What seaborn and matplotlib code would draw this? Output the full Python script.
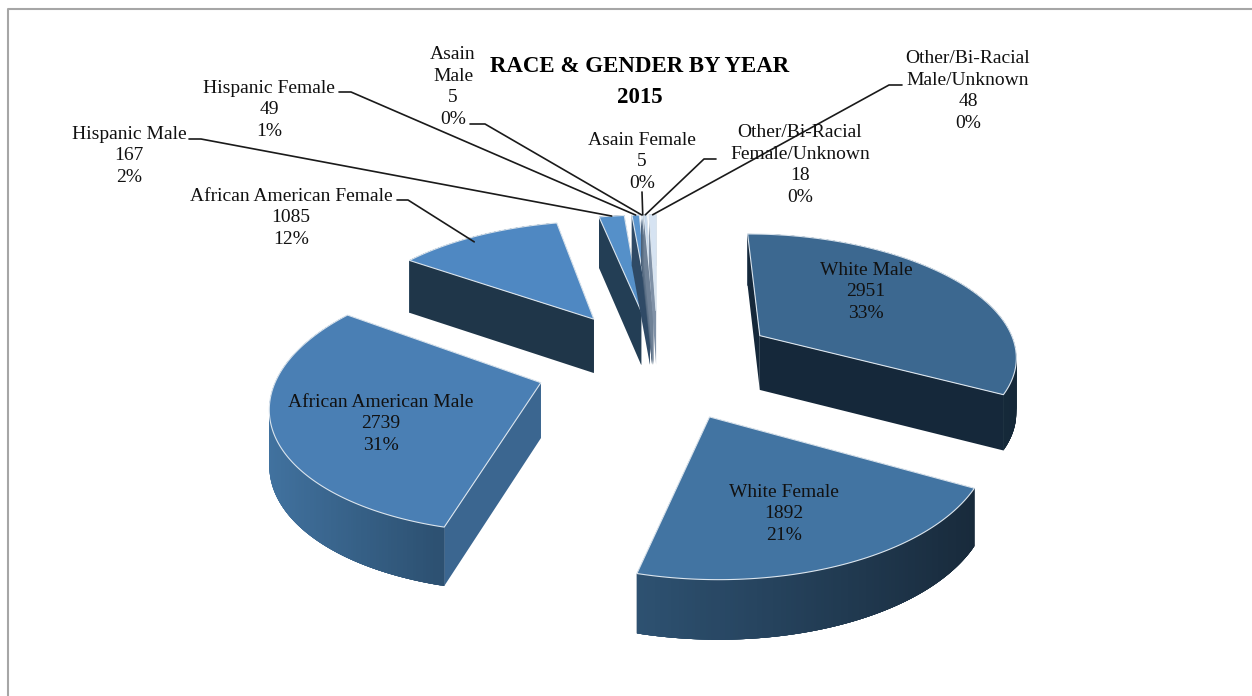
import numpy as np
import pandas as pd
import seaborn as sns
import matplotlib
matplotlib.use('Agg')
import matplotlib.pyplot as plt
from matplotlib.patches import Polygon

groups = ["White Male", "White Female", "African American Male", "African American Female",
          "Hispanic Male", "Hispanic Female", "Asain\nMale", "Asain Female",
          "Other/Bi-Racial\nFemale/Unknown", "Other/Bi-Racial\nMale/Unknown"]
counts = [2951, 1892, 2739, 1085, 167, 49, 5, 5, 18, 48]
percents = ["33%", "21%", "31%", "12%", "2%", "1%", "0%", "0%", "0%", "0%"]

top_colors = ["#3c6890", "#4274a2", "#4a7fb4", "#4f88c2", "#5590c9", "#5b95ce",
              "#8fb3dc", "#a9c5e4", "#c2d6ec", "#d6e3f2"]
rim_left = ["#1e374e", "#2e5272", "#41729f", "#2a4a66", "#2a4a66", "#33506e",
            "#5a6f88", "#6f8299", "#7f90a6", "#8f9fb2"]
rim_right = ["#152838", "#182a3b", "#2d5172", "#223c52", "#223c52", "#2c4660",
             "#4a6078", "#5f7389", "#6f8196", "#8091a6"]
cut_colors = ["#15283a", "#1a2e40", "#3b6690", "#1f3649", "#233e55", "#2f4a66",
              "#4a6078", "#5f7389", "#6f8196", "#8091a6"]

# where the labels sit, centre x / centre y
label_x = [866, 784, 381, 291, 129, 269, 453, 642, 800, 968]
label_y = [292, 514, 424, 218, 156, 110, 87, 162, 165, 91]
elbows = [None, None, None, [(397, 200), (408, 200)], [(189, 139), (201, 139)],
          [(339, 92), (351, 92)], [(470, 124), (485, 124)], [(642, 192)],
          [(716, 159), (704, 159)], [(902, 85), (889, 85)]]

df = pd.DataFrame({"group": groups, "count": counts, "pct": percents})
df["end"] = df["count"].cumsum() / df["count"].sum() * 2 * np.pi
df["start"] = df["end"] - df["count"] / df["count"].sum() * 2 * np.pi

# view of the tilted pie
cx, y0 = 658, 363
rx, ky = 260, 123
persp = 0.14
height = 55
ex, ey = 0.47, 0.45
steps = 160


def project(px, py, z=0):
    f = 1 / (1 - persp * np.asarray(py))
    return cx + rx * np.asarray(px) * f, y0 + ky * np.asarray(py) * f + z * height * f ** 0.4


def rim(row, n=steps):
    t = np.linspace(row.start, row.end, n)
    mid = (row.start + row.end) / 2
    ax0, ay0 = ex * np.sin(mid), -ey * np.cos(mid)
    return ax0, ay0, ax0 + np.sin(t), ay0 - np.cos(t)


sns.set_theme(style="white")
plt.rcParams['font.family'] = ['Liberation Serif', 'DejaVu Serif']

fig = plt.figure(figsize=(12.52, 6.96), dpi=100)
ax = fig.add_axes([0, 0, 1, 1])
ax.set_xlim(0, 1252)
ax.set_ylim(696, 0)
ax.axis('off')

ax.plot([7.5, 7.5, 1252], [696, 8.5, 8.5], color="#a6a6a6", lw=1.5, zorder=1)

order = [4, 5, 6, 7, 8, 9, 3, 0, 2, 1]
z = 2
for i in order:
    row = df.iloc[i]
    a_x, a_y, rx_pts, ry_pts = rim(row)

    walls = []
    for k in [0, -1]:
        px = [a_x, rx_pts[k], rx_pts[k], a_x]
        py = [a_y, ry_pts[k], ry_pts[k], a_y]
        walls.append((np.mean(py), project(px, py, np.array([0, 0, 1, 1])), None))
    shades = sns.blend_palette([rim_left[i], rim_right[i]], 100)
    xs_top = project(rx_pts, ry_pts)[0]
    for k in range(steps - 1):
        # each strip overlaps its neighbours so no seams show
        k0, k1 = max(k - 2, 0), min(k + 3, steps - 1)
        px = [rx_pts[k0], rx_pts[k1], rx_pts[k1], rx_pts[k0]]
        py = [ry_pts[k0], ry_pts[k1], ry_pts[k1], ry_pts[k0]]
        pos = (xs_top[k] - xs_top.min()) / max(xs_top.max() - xs_top.min(), 1)
        walls.append((np.mean(py), project(px, py, np.array([0, 0, 1, 1])), shades[int(pos * 99)]))

    for _, (wx, wy), col in sorted(walls, key=lambda w: w[0]):
        c = cut_colors[i] if col is None else col
        ax.add_patch(Polygon(np.c_[wx, wy], closed=True, facecolor=c, edgecolor='none', lw=0, zorder=z))
        z += 1

    tx, ty = project(np.r_[a_x, rx_pts], np.r_[a_y, ry_pts])
    ax.add_patch(Polygon(np.c_[tx, ty], closed=True, facecolor=top_colors[i],
                         edgecolor="#dbe5ee", lw=0.8, zorder=z))
    z += 1

# leader lines and labels
for i, row in df.iterrows():
    if elbows[i] is not None:
        a_x, a_y, rx_pts, ry_pts = rim(row)
        pick = int(steps * 0.44) if i == 3 else steps // 2
        tip = 0.95 if i == 3 else 1.0
        mx = a_x + (rx_pts[pick] - a_x) * tip
        my = a_y + (ry_pts[pick] - a_y) * tip
        ex_x, ex_y = project(mx, my)
        pts = elbows[i] + [(float(ex_x), float(ex_y))]
        ax.plot(*zip(*pts), color="#1a1a1a", lw=1.2, zorder=5000)
    text = f"{row['group']}\n{row['count']}\n{row['pct']}"
    ax.text(label_x[i], label_y[i], text, ha='center', va='center', fontsize=14,
            linespacing=1.38, color="#111111", zorder=6000)

ax.text(640, 82, "RACE & GENDER BY YEAR\n2015", ha='center', va='center',
        fontsize=16.5, fontweight='bold', color="black", linespacing=1.6, zorder=6000)

plt.savefig('out.png', dpi=100)
